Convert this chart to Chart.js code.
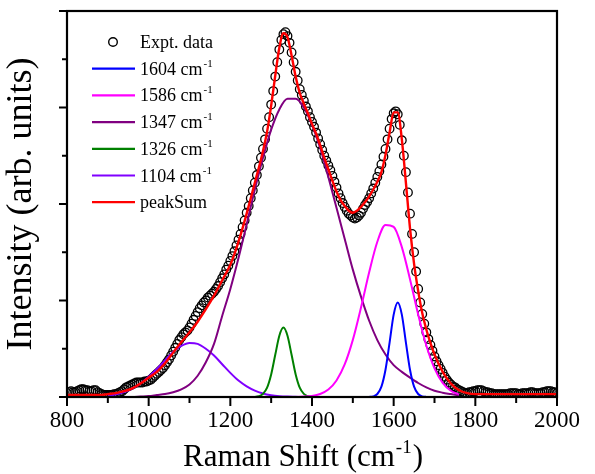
<!DOCTYPE html>
<html>
<head>
<meta charset="utf-8">
<script src="https://cdn.jsdelivr.net/npm/chart.js@4.4.1/dist/chart.umd.min.js"></script>
<style>
  html, body { margin: 0; padding: 0; background: #fff; }
</style>
</head>
<body>
<canvas id="raman" width="595" height="474"></canvas>
<script>
// measured spectrum (every 5 cm-1)
const exptShift = [
  800, 805, 810, 815, 820, 825, 830, 835, 840, 845, 850, 855, 860, 865, 870, 875, 880, 885, 890, 895,
  900, 905, 910, 915, 920, 925, 930, 935, 940, 945, 950, 955, 960, 965, 970, 975, 980, 985, 990, 995,
  1000, 1005, 1010, 1015, 1020, 1025, 1030, 1035, 1040, 1045, 1050, 1055, 1060, 1065, 1070, 1075, 1080, 1085, 1090, 1095,
  1100, 1105, 1110, 1115, 1120, 1125, 1130, 1135, 1140, 1145, 1150, 1155, 1160, 1165, 1170, 1175, 1180, 1185, 1190, 1195,
  1200, 1205, 1210, 1215, 1220, 1225, 1230, 1235, 1240, 1245, 1250, 1255, 1260, 1265, 1270, 1275, 1280, 1285, 1290, 1295,
  1300, 1305, 1310, 1315, 1320, 1325, 1330, 1335, 1340, 1345, 1350, 1355, 1360, 1365, 1370, 1375, 1380, 1385, 1390, 1395,
  1400, 1405, 1410, 1415, 1420, 1425, 1430, 1435, 1440, 1445, 1450, 1455, 1460, 1465, 1470, 1475, 1480, 1485, 1490, 1495,
  1500, 1505, 1510, 1515, 1520, 1525, 1530, 1535, 1540, 1545, 1550, 1555, 1560, 1565, 1570, 1575, 1580, 1585, 1590, 1595,
  1600, 1605, 1610, 1615, 1620, 1625, 1630, 1635, 1640, 1645, 1650, 1655, 1660, 1665, 1670, 1675, 1680, 1685, 1690, 1695,
  1700, 1705, 1710, 1715, 1720, 1725, 1730, 1735, 1740, 1745, 1750, 1755, 1760, 1765, 1770, 1775, 1780, 1785, 1790, 1795,
  1800, 1805, 1810, 1815, 1820, 1825, 1830, 1835, 1840, 1845, 1850, 1855, 1860, 1865, 1870, 1875, 1880, 1885, 1890, 1895,
  1900, 1905, 1910, 1915, 1920, 1925, 1930, 1935, 1940, 1945, 1950, 1955, 1960, 1965, 1970, 1975, 1980, 1985, 1990, 1995,
  2000];
const exptIntensity = [
  0.04, 0.05, 0.06, 0.05, 0.05, 0.06, 0.07, 0.08, 0.08, 0.07, 0.07, 0.06, 0.06, 0.07, 0.07, 0.05, 0.04, 0.03, 0.02, 0.02,
  0.02, 0.02, 0.02, 0.03, 0.03, 0.04, 0.05, 0.06, 0.08, 0.10, 0.11, 0.12, 0.13, 0.14, 0.15, 0.15, 0.15, 0.15, 0.16, 0.16,
  0.17, 0.18, 0.20, 0.22, 0.24, 0.26, 0.28, 0.30, 0.33, 0.36, 0.39, 0.43, 0.47, 0.51, 0.55, 0.59, 0.62, 0.65, 0.67, 0.69,
  0.72, 0.76, 0.80, 0.84, 0.88, 0.92, 0.95, 0.98, 1.00, 1.03, 1.05, 1.07, 1.09, 1.12, 1.15, 1.19, 1.23, 1.27, 1.32, 1.36,
  1.41, 1.46, 1.51, 1.57, 1.63, 1.69, 1.76, 1.83, 1.91, 1.98, 2.06, 2.14, 2.22, 2.30, 2.39, 2.48, 2.57, 2.67, 2.78, 2.90,
  3.03, 3.17, 3.32, 3.47, 3.60, 3.70, 3.76, 3.78, 3.74, 3.67, 3.57, 3.47, 3.37, 3.28, 3.19, 3.13, 3.07, 3.01, 2.96, 2.90,
  2.85, 2.80, 2.74, 2.68, 2.62, 2.56, 2.50, 2.45, 2.40, 2.35, 2.29, 2.23, 2.17, 2.11, 2.06, 2.01, 1.97, 1.93, 1.90, 1.88,
  1.86, 1.85, 1.86, 1.88, 1.91, 1.95, 1.99, 2.02, 2.06, 2.11, 2.16, 2.22, 2.28, 2.34, 2.41, 2.49, 2.57, 2.67, 2.78, 2.88,
  2.94, 2.96, 2.93, 2.82, 2.66, 2.50, 2.33, 2.12, 1.90, 1.69, 1.50, 1.30, 1.12, 0.98, 0.86, 0.76, 0.67, 0.60, 0.54, 0.48,
  0.42, 0.37, 0.33, 0.29, 0.25, 0.21, 0.18, 0.15, 0.13, 0.11, 0.10, 0.08, 0.07, 0.06, 0.05, 0.04, 0.04, 0.05, 0.05, 0.06,
  0.06, 0.07, 0.07, 0.07, 0.06, 0.05, 0.05, 0.04, 0.04, 0.03, 0.03, 0.03, 0.03, 0.03, 0.03, 0.03, 0.03, 0.04, 0.04, 0.04,
  0.04, 0.03, 0.03, 0.04, 0.04, 0.04, 0.04, 0.05, 0.05, 0.04, 0.04, 0.04, 0.04, 0.05, 0.05, 0.06, 0.06, 0.06, 0.05, 0.05,
  0.04];

// cumulative fit
const sumShift = [800, 820, 840, 860, 880, 900, 920, 940, 960, 980,
  1000, 1020, 1040, 1060, 1080, 1100, 1120, 1140, 1160, 1180, 1200,
  1210, 1220, 1230, 1240, 1250, 1260, 1270, 1280, 1290, 1300,
  1310, 1320, 1330, 1340, 1350, 1360, 1370, 1380, 1390, 1400,
  1410, 1420, 1430, 1440, 1450, 1460, 1470, 1480, 1490, 1500,
  1510, 1520, 1530, 1540, 1550, 1560, 1570, 1580, 1590, 1600,
  1610, 1620, 1630, 1640, 1650, 1660, 1670, 1680, 1690, 1700,
  1720, 1740, 1760, 1780, 1800, 1820, 1840, 1860, 1880, 1900,
  1920, 1940, 1960, 1980, 2000];
const sumIntensity = [0.02, 0.02, 0.02, 0.02, 0.02, 0.03, 0.04, 0.06, 0.09, 0.14,
  0.20, 0.26, 0.35, 0.46, 0.57, 0.67, 0.78, 0.91, 1.05, 1.21, 1.37,
  1.48, 1.61, 1.75, 1.90, 2.06, 2.22, 2.38, 2.55, 2.75, 3.02,
  3.33, 3.62, 3.77, 3.73, 3.54, 3.32, 3.15, 3.04, 2.94, 2.83,
  2.73, 2.61, 2.48, 2.36, 2.24, 2.13, 2.04, 1.98, 1.93, 1.91,
  1.93, 1.97, 2.02, 2.08, 2.15, 2.23, 2.33, 2.51, 2.74, 2.95,
  2.95, 2.67, 2.22, 1.75, 1.38, 1.10, 0.87, 0.70, 0.56, 0.44,
  0.26, 0.14, 0.07, 0.04, 0.03, 0.03, 0.03, 0.03, 0.03, 0.03,
  0.03, 0.03, 0.03, 0.03, 0.03];

// fitted components
const broadShift = [900, 920, 940, 960, 980, 1000, 1020, 1040, 1060, 1080,
  1100, 1120, 1140, 1160, 1180, 1200, 1220, 1240, 1260, 1280,
  1300, 1320, 1340, 1360, 1380, 1400, 1420, 1440, 1460, 1480,
  1500, 1520, 1540, 1560, 1580, 1600, 1620, 1640, 1660, 1680,
  1700, 1720, 1740, 1760];
const peak1347 = [0, 0, 0, 0, 0.005, 0.01, 0.02, 0.03, 0.05, 0.08,
  0.13, 0.22, 0.36, 0.55, 0.84, 1.12, 1.44, 1.79, 2.15, 2.48,
  2.77, 2.98, 3.09, 3.09, 3.00, 2.82, 2.58, 2.28, 1.96, 1.64,
  1.32, 1.04, 0.79, 0.59, 0.44, 0.33, 0.26, 0.20, 0.145, 0.10,
  0.065, 0.045, 0.03, 0.015];
const peak1104 = [0.013, 0.027, 0.05, 0.086, 0.14, 0.21, 0.29, 0.38, 0.47, 0.53,
  0.56, 0.55, 0.50, 0.43, 0.34, 0.25, 0.17, 0.11, 0.066, 0.037,
  0.019, 0.009, 0.004, 0.002, 0, 0, 0, 0, 0, 0,
  0, 0, 0, 0, 0, 0, 0, 0, 0, 0,
  0, 0, 0, 0];
const peak1586 = [0, 0, 0, 0, 0, 0, 0, 0, 0, 0,
  0, 0, 0, 0, 0, 0, 0, 0, 0, 0,
  0, 0, 0, 0.001, 0.004, 0.011, 0.031, 0.077, 0.171, 0.337,
  0.592, 0.927, 1.293, 1.609, 1.783, 1.763, 1.553, 1.221, 0.855, 0.534,
  0.297, 0.147, 0.065, 0.026];
const greenShift = [900, 1250, 1260, 1270, 1280, 1290, 1300, 1310, 1320, 1330,
  1340, 1350, 1360, 1370, 1380, 1390, 1400, 1410, 1760];
const peak1326 = [0, 0, 0.001, 0.008, 0.032, 0.097, 0.234, 0.437, 0.635, 0.72,
  0.635, 0.437, 0.234, 0.097, 0.032, 0.008, 0.001, 0, 0];
const blueShift = [900, 1530, 1540, 1550, 1560, 1570, 1580, 1590, 1600, 1610,
  1620, 1630, 1640, 1650, 1660, 1670, 1680, 1690, 1760];
const peak1604 = [0, 0, 0.001, 0.007, 0.031, 0.107, 0.282, 0.563, 0.854, 0.98,
  0.854, 0.563, 0.282, 0.107, 0.031, 0.007, 0.001, 0, 0];

const xTicks = [800, 1000, 1200, 1400, 1600, 1800, 2000];
const legendLabels = ['Expt. data', '1604 cm', '1586 cm', '1347 cm', '1326 cm', '1104 cm', 'peakSum'];

const serif = '"Liberation Serif", "Times New Roman", serif';

function pts(xs, ys) {
  return xs.map((x, i) => ({ x: x, y: ys[i] }));
}

function curve(label, xs, ys, color, order, width) {
  return {
    label: label,
    data: pts(xs, ys),
    borderColor: color,
    borderWidth: width || 2,
    pointRadius: 0,
    fill: false,
    cubicInterpolationMode: 'monotone',
    order: order
  };
}

// frame, tick marks, legend and x title with superscripts
const decor = {
  id: 'decor',
  afterDraw(chart) {
    const ctx = chart.ctx;
    const a = chart.chartArea;
    const xs = chart.scales.x;
    const ys = chart.scales.y;
    ctx.save();
    ctx.strokeStyle = '#000';
    ctx.lineWidth = 2.2;
    ctx.strokeRect(a.left, a.top, a.right - a.left, a.bottom - a.top);

    ctx.lineWidth = 2;
    ctx.beginPath();
    for (let v = 800; v <= 2000; v += 100) {
      const px = xs.getPixelForValue(v);
      const len = v % 200 === 0 ? 9 : 6;
      ctx.moveTo(px, a.bottom);
      ctx.lineTo(px, a.bottom + len);
    }
    for (let v = 0; v <= 4; v += 0.5) {
      const py = ys.getPixelForValue(v);
      const len = v % 1 === 0 ? 8 : 5;
      ctx.moveTo(a.left, py);
      ctx.lineTo(a.left - len, py);
    }
    ctx.stroke();

    // legend
    const sets = chart.data.datasets;
    ctx.fillStyle = '#000';
    ctx.textBaseline = 'alphabetic';
    legendLabels.forEach((txt, i) => {
      const y = 42 + i * 26.7;
      const ds = sets[i];
      if (i === 0) {
        ctx.beginPath();
        ctx.lineWidth = 1.4;
        ctx.strokeStyle = '#000';
        ctx.arc(113, y, 4.3, 0, Math.PI * 2);
        ctx.stroke();
      } else {
        ctx.beginPath();
        ctx.lineWidth = 2.2;
        ctx.strokeStyle = ds.borderColor;
        ctx.moveTo(92, y);
        ctx.lineTo(135, y);
        ctx.stroke();
      }
      ctx.font = '18px ' + serif;
      ctx.fillText(txt, 140, y + 6);
      if (txt.endsWith('cm')) {
        const w = ctx.measureText(txt).width;
        ctx.font = '11px ' + serif;
        ctx.fillText('-1', 140 + w + 1, y - 2);
      }
    });

    // x axis title
    const big = '31px ' + serif;
    const small = '19px ' + serif;
    ctx.font = big;
    const t1 = 'Raman Shift (cm';
    const w1 = ctx.measureText(t1).width;
    const w3 = ctx.measureText(')').width;
    ctx.font = small;
    const w2 = ctx.measureText('-1').width;
    let x0 = 303 - (w1 + w2 + w3 + 2) / 2;
    const base = 466;
    ctx.font = big;
    ctx.fillText(t1, x0, base);
    ctx.font = small;
    ctx.fillText('-1', x0 + w1 + 1, base - 13);
    ctx.font = big;
    ctx.fillText(')', x0 + w1 + w2 + 2, base);
    ctx.restore();
  }
};

new Chart(document.getElementById('raman'), {
  type: 'line',
  data: {
    datasets: [
      {
        label: 'Expt. data',
        data: pts(exptShift, exptIntensity),
        showLine: false,
        pointRadius: 4.3,
        pointBorderWidth: 1.3,
        pointBorderColor: '#000',
        pointBackgroundColor: 'rgba(0,0,0,0)',
        order: 10
      },
      curve('1604 cm-1', blueShift, peak1604, '#0000ff', 1),
      curve('1586 cm-1', broadShift, peak1586, '#ff00ff', 2),
      curve('1347 cm-1', broadShift, peak1347, '#800080', 3),
      curve('1326 cm-1', greenShift, peak1326, '#008000', 4),
      curve('1104 cm-1', broadShift, peak1104, '#8000ff', 5),
      curve('peakSum', sumShift, sumIntensity, '#ff0000', 0, 2.4)
    ]
  },
  options: {
    responsive: false,
    animation: false,
    layout: { padding: { top: 11, right: 38, left: 0, bottom: 0 } },
    plugins: { legend: { display: false }, tooltip: { enabled: false } },
    scales: {
      x: {
        type: 'linear',
        min: 800,
        max: 2000,
        afterBuildTicks: s => { s.ticks = xTicks.map(v => ({ value: v })); },
        ticks: { font: { family: serif, size: 23 }, color: '#000', padding: 10, maxRotation: 0, autoSkip: false, callback: v => String(v) },
        grid: { display: false, drawTicks: false },
        border: { display: false },
        afterFit: s => { s.height = 77; }
      },
      y: {
        min: 0,
        max: 4,
        ticks: { display: false, stepSize: 0.5 },
        grid: { display: false, drawTicks: false },
        border: { display: false },
        title: { display: true, text: 'Intensity (arb. units)', color: '#000', font: { family: serif, size: 36 }, padding: 0 },
        afterFit: s => { s.width = 67; }
      }
    }
  },
  plugins: [decor]
});
</script>
</body>
</html>
